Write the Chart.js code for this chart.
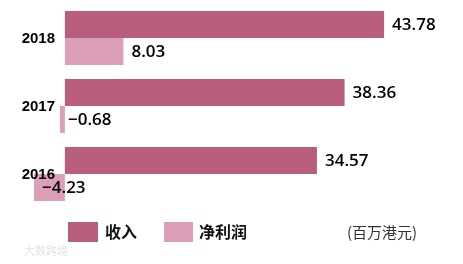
<!DOCTYPE html>
<html lang="zh">
  <head>
    <meta charset="utf-8" />
    <title>收入与净利润</title>
    <script src="https://cdn.jsdelivr.net/npm/chart.js@4.4.1/dist/chart.umd.min.js"></script>
    <style>
      html,
      body {
        margin: 0;
        padding: 0;
        background: #ffffff;
      }
      #chartBox {
        width: 463px;
        height: 264px;
      }
    </style>
  </head>
  <body>
    <div id="chartBox"><canvas id="chart"></canvas></div>
    <script>
      const years = ["2018", "2017", "2016"];
      const revenue = [43.78, 38.36, 34.57];
      const netProfit = [8.03, -0.68, -4.23];
      const seriesNames = ["收入", "净利润"];
      const unitText = "(百万港元)";
      const watermark = "大数跨境";

      const darkPink = "#b85d7d";
      const lightPink = "#dba0b7";

      // year labels, value labels, legend and unit drawn on top
      const labelsPlugin = {
        id: "labelsPlugin",
        afterDatasetsDraw(chart) {
          const ctx = chart.ctx;
          const yScale = chart.scales.y;
          ctx.save();

          // category labels at the left
          ctx.fillStyle = "#000";
          ctx.font = "bold 15px 'Liberation Sans', Arial, sans-serif";
          ctx.textAlign = "right";
          ctx.textBaseline = "middle";
          years.forEach((y, i) => {
            ctx.fillText(y, 55, yScale.getPixelForValue(i) + 1);
          });

          // value labels after each bar end
          ctx.font = "600 17px 'Open Sans', sans-serif";
          ctx.textAlign = "left";
          chart.data.datasets.forEach((ds, di) => {
            const meta = chart.getDatasetMeta(di);
            meta.data.forEach((bar, i) => {
              const v = ds.data[i];
              const txt = v.toFixed(2).replace("-", "−");
              const end = Math.min(bar.x, bar.base);
              const x = v < 0 ? bar.x + 8 : bar.x + 8;
              ctx.fillText(txt, x, bar.y + 1);
            });
          });

          // legend
          const ly = 232;
          ctx.font = "bold 16px 'Noto Sans CJK SC', sans-serif";
          ctx.fillStyle = darkPink;
          ctx.fillRect(68, ly - 10, 30, 20);
          ctx.fillStyle = "#111";
          ctx.fillText(seriesNames[0], 105, ly);
          ctx.fillStyle = lightPink;
          ctx.fillRect(164, ly - 10, 29, 20);
          ctx.fillStyle = "#111";
          ctx.fillText(seriesNames[1], 199, ly);

          ctx.font = "15px 'Noto Sans CJK SC', sans-serif";
          ctx.fillStyle = "#333";
          ctx.fillText(unitText, 347, ly);

          ctx.font = "11px 'Noto Sans CJK SC', sans-serif";
          ctx.fillStyle = "#e2e2e2";
          ctx.fillText(watermark, 24, 251);

          ctx.restore();
        }
      };

      new Chart(document.getElementById("chart"), {
        type: "bar",
        data: {
          labels: years,
          datasets: [
            {
              label: seriesNames[0],
              data: revenue,
              backgroundColor: darkPink,
              categoryPercentage: 0.794,
              barPercentage: 1.0
            },
            {
              label: seriesNames[1],
              data: netProfit,
              backgroundColor: lightPink,
              categoryPercentage: 0.794,
              barPercentage: 1.0
            }
          ]
        },
        options: {
          indexAxis: "y",
          responsive: true,
          maintainAspectRatio: false,
          animation: false,
          layout: {
            padding: { top: 4, bottom: 56, left: 0, right: 0 }
          },
          scales: {
            x: {
              display: false,
              min: -8.9,
              max: 54.6
            },
            y: {
              display: false
            }
          },
          plugins: {
            legend: { display: false },
            tooltip: { enabled: false }
          }
        },
        plugins: [labelsPlugin]
      });
    </script>
  </body>
</html>
